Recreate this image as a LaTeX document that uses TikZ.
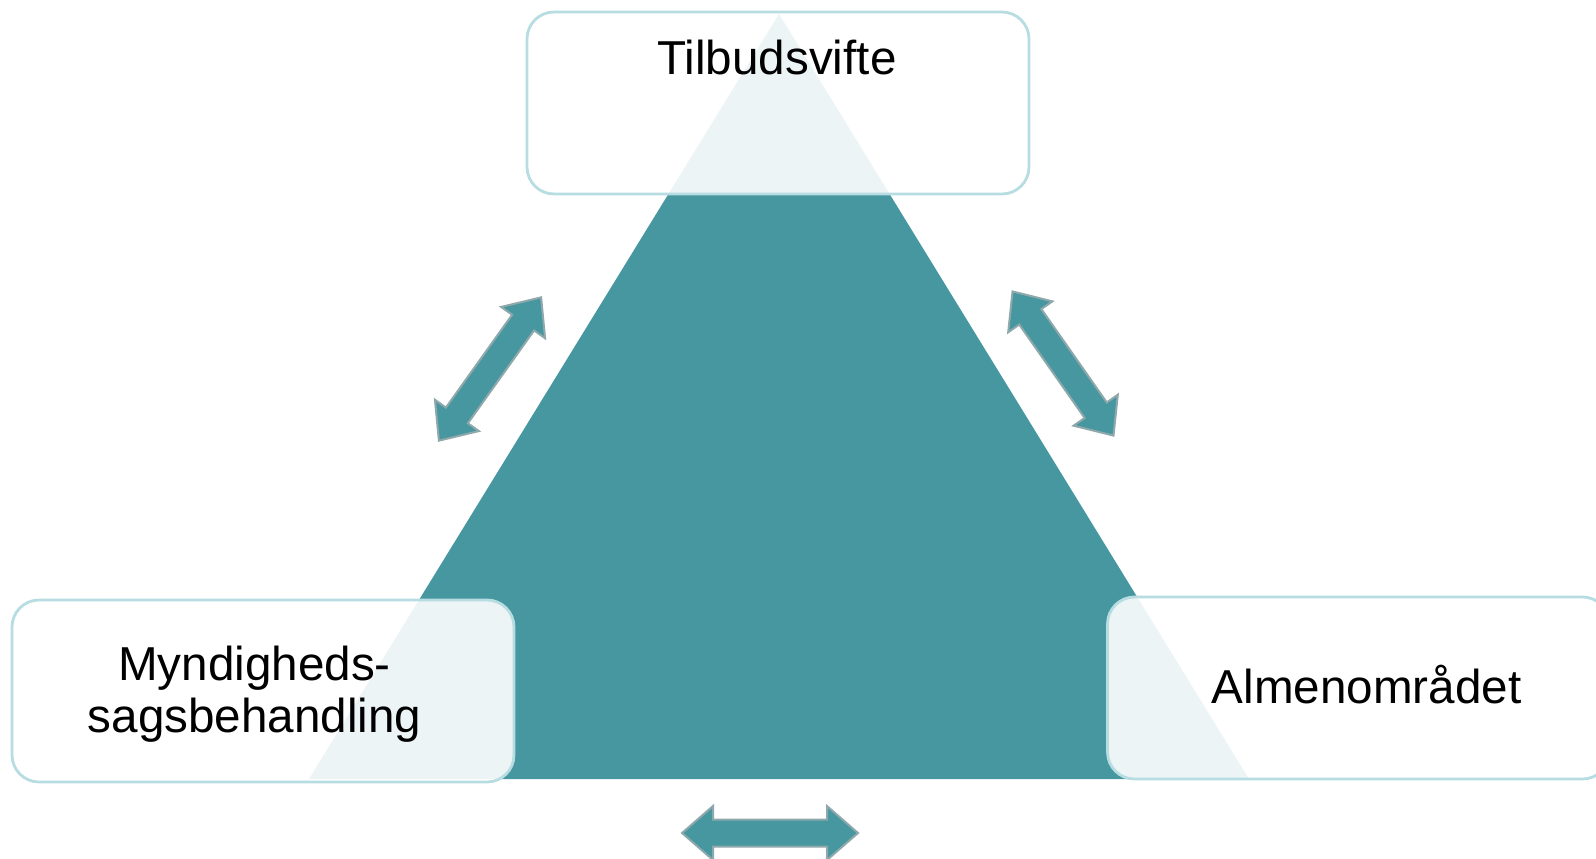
\documentclass[tikz,border=0pt]{standalone}
\usepackage{fontspec}
\setmainfont{Liberation Sans}
\definecolor{tealfill}{RGB}{71,151,160}
\definecolor{boxline}{RGB}{183,221,226}
\definecolor{arrowline}{RGB}{143,168,171}
\tikzset{
	areabox/.style={draw=boxline,line width=1.4pt,fill=white,fill opacity=0.9,
		rounded corners=13.5pt,minimum width=251pt,minimum height=91pt,inner sep=0pt},
	areatext/.style={font=\fontsize{23.8}{26}\selectfont,text=black,align=center,inner sep=0pt},
	blockarrow/.style={fill=tealfill,draw=arrowline,line width=1pt,line join=miter}
}
% double block arrow: centre, angle
\newcommand{\twoway}[2]{%
	\begin{scope}[shift={(#1)},rotate=#2]
		\filldraw[blockarrow] (-88,0) -- (-57,27) -- (-57,13.5) -- (57,13.5) -- (57,27) -- (88,0)
			-- (57,-27) -- (57,-13.5) -- (-57,-13.5) -- (-57,-27) -- cycle;
	\end{scope}}
\begin{document}
\begin{tikzpicture}[x=0.5pt,y=-0.5pt]
	\useasboundingbox (0,0) rectangle (1596,858);
	\fill[tealfill] (779,14) -- (1249,779) -- (309,779) -- cycle;
	\node[areabox] (topbox) at (778,103) {};
	\node[areabox] (leftbox) at (263,691) {};
	\node[areabox] (rightbox) at (1358.5,688) {};
	\node[areatext,anchor=base] (toptext) at (777,74) {Tilbudsvifte};
	\node[areatext] (lefttext) at (254.5,694) {Myndigheds-\\sagsbehandling};
	\node[areatext,anchor=base] (righttext) at (1366.5,703) {Almenområdet};
	\twoway{490,369}{54.5}
	\twoway{1063,363.5}{-55}
	\twoway{770,833}{0}
\end{tikzpicture}
\end{document}
